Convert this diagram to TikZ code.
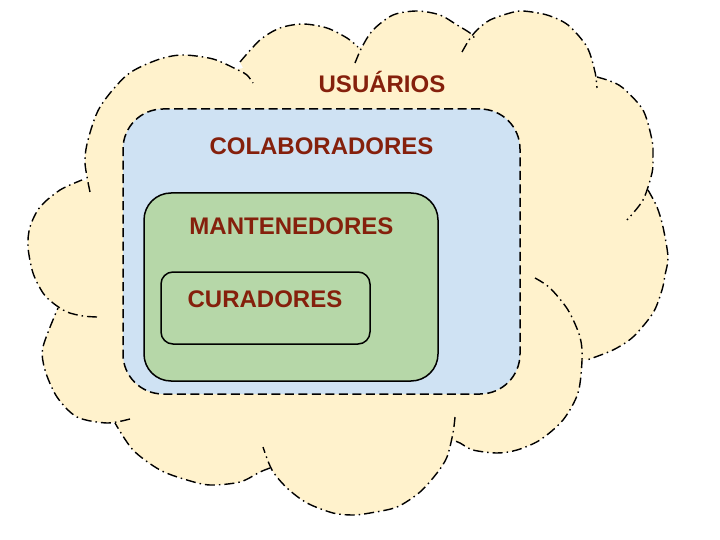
\documentclass[tikz,border=0pt]{standalone}
\usepackage{fontspec}
\setmainfont{Liberation Sans}
\definecolor{cloudfill}{HTML}{FFF2CC}
\definecolor{bluefill}{HTML}{CFE2F3}
\definecolor{greenfill}{HTML}{B6D7A8}
\definecolor{labelred}{HTML}{85200C}
\begin{document}
\begin{tikzpicture}[x=1pt,y=-1pt,
  cloudline/.style={draw=black,line width=1.4pt,dash pattern=on 10pt off 4pt on 1.5pt off 4pt},
  setbox/.style={rectangle,line width=1.5pt,inner sep=0pt,outer sep=0pt},
  lbl/.style={anchor=base,inner sep=0pt,text=labelred,font=\fontsize{24}{28}\selectfont\bfseries}]
\useasboundingbox (0,0) rectangle (720,540);
\coordinate (c) at (350,280);
% ---- cloud fill (fans from the centre + junction polygon) ----
\fill[cloudfill]
  plot[smooth] coordinates {(90,192) (85,163) (88,140) (100,107) (127,75) (157,60) (182,55) (213,59) (238,70) (247,75) (253,83)} -- (c) -- cycle
  plot[smooth] coordinates {(240,62) (260,40) (280,28) (303,24) (327,28) (347,38) (358,47)} -- (c) -- cycle
  plot[smooth] coordinates {(355,63) (362,47) (373,30) (393,15) (417,11) (440,15) (457,25) (470,33) (476,40)} -- (c) -- cycle
  plot[smooth] coordinates {(462,52) (469,40) (477,30) (490,20) (510,13) (523,11) (547,15) (568,25) (587,47) (595,72) (597,88)} -- (c) -- cycle
  plot[smooth] coordinates {(597,77) (610,81) (623,88) (643,110) (652,140) (653,157) (652,173) (643,200) (627,220)} -- (c) -- cycle
  plot[smooth] coordinates {(648,190) (657,207) (663,227) (668,257) (665,275) (662,290) (653,313) (633,337) (613,350) (587,360)} -- (c) -- cycle
  plot[smooth] coordinates {(535,278) (550,288) (568,310) (580,337) (582,360) (578,393) (563,420) (540,440) (517,450) (497,453) (473,450) (460,443) (455,441)} -- (c) -- cycle
  plot[smooth] coordinates {(455,417) (453,433) (447,457) (437,473) (420,492) (397,507) (370,513) (353,515) (333,513) (307,503) (287,488) (272,470) (263,447)} -- (c) -- cycle
  plot[smooth] coordinates {(270,468) (260,472) (240,482) (210,485) (187,480) (160,470) (133,450) (115,423)} -- (c) -- cycle
  plot[smooth] coordinates {(130,419) (107,423) (77,417) (57,397) (45,370) (43,347) (58,308)} -- (c) -- cycle
  plot[smooth] coordinates {(97,317) (83,316) (67,312) (53,303) (43,293) (33,273) (28,247) (30,227) (40,207) (60,190) (82,180)} -- (c) -- cycle
  (86,180) -- (238,69) -- (360,47) -- (474,36) -- (596,77) -- (648,188) -- (583,362) -- (451,442) -- (268,466) -- (115,422) -- (56,306) -- cycle;
% ---- cloud outline lobes ----
\draw[cloudline] plot[smooth] coordinates {(90,192) (85,163) (88,140) (100,107) (127,75) (157,60) (182,55) (213,59) (238,70) (247,75) (253,83)};
\draw[cloudline] plot[smooth] coordinates {(240,62) (260,40) (280,28) (303,24) (327,28) (347,38) (358,47)};
\draw[cloudline] plot[smooth] coordinates {(355,63) (362,47) (373,30) (393,15) (417,11) (440,15) (457,25) (470,33) (476,40)};
\draw[cloudline] plot[smooth] coordinates {(462,52) (469,40) (477,30) (490,20) (510,13) (523,11) (547,15) (568,25) (587,47) (595,72) (597,88)};
\draw[cloudline] plot[smooth] coordinates {(597,77) (610,81) (623,88) (643,110) (652,140) (653,157) (652,173) (643,200) (627,220)};
\draw[cloudline] plot[smooth] coordinates {(648,190) (657,207) (663,227) (668,257) (665,275) (662,290) (653,313) (633,337) (613,350) (587,360)};
\draw[cloudline] plot[smooth] coordinates {(535,278) (550,288) (568,310) (580,337) (582,360) (578,393) (563,420) (540,440) (517,450) (497,453) (473,450) (460,443) (455,441)};
\draw[cloudline] plot[smooth] coordinates {(455,417) (453,433) (447,457) (437,473) (420,492) (397,507) (370,513) (353,515) (333,513) (307,503) (287,488) (272,470) (263,447)};
\draw[cloudline] plot[smooth] coordinates {(270,468) (260,472) (240,482) (210,485) (187,480) (160,470) (133,450) (115,423)};
\draw[cloudline] plot[smooth] coordinates {(130,419) (107,423) (77,417) (57,397) (45,370) (43,347) (58,308)};
\draw[cloudline] plot[smooth] coordinates {(97,317) (83,316) (67,312) (53,303) (43,293) (33,273) (28,247) (30,227) (40,207) (60,190) (82,180)};
% ---- nested sets ----
\node[setbox,fill=bluefill,draw=black,dash pattern=on 9pt off 4.5pt,rounded corners=40pt,
      minimum width=397pt,minimum height=285pt] (colab) at (321.5,251.5) {};
\node[setbox,fill=greenfill,draw=black,rounded corners=27pt,
      minimum width=294pt,minimum height=188pt] (mant) at (291,287) {};
\node[setbox,fill=greenfill,draw=black,rounded corners=12pt,
      minimum width=209pt,minimum height=72pt] (cur) at (265.5,308) {};
% ---- labels ----
\node[lbl] (tusu) at (382,92.5) {USUÁRIOS};
\node[lbl] (tcol) at (321.5,155) {COLABORADORES};
\node[lbl] (tman) at (291.5,234) {MANTENEDORES};
\node[lbl] (tcur) at (265,307) {CURADORES};
\end{tikzpicture}
\end{document}
